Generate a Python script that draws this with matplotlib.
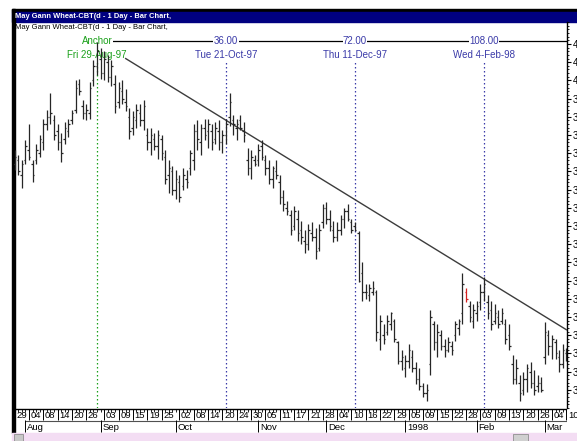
import numpy as np
import pandas as pd
import matplotlib
matplotlib.use('Agg')
from matplotlib import pyplot as plt
from matplotlib.patches import Rectangle
from matplotlib.ticker import MultipleLocator, FixedLocator

plt.rcParams['font.family'] = ['Liberation Sans', 'DejaVu Sans']

# trading calendar (CBT closed on these days)
holidays = ['1997-09-01', '1997-11-27', '1997-12-25', '1998-01-01', '1998-01-19', '1998-02-16']
dates = [d.strftime('%Y-%m-%d') for d in pd.bdate_range('1997-07-29', '1998-03-10')]
dates = [d for d in dates if d not in holidays]

# daily bars, cents per bushel
highs = [381, 379.5, 378, 383.5, 388, 378, 382.5, 385, 389.5, 392,
         396.5, 390.5, 388, 385.5, 388.5, 389.5, 392, 400, 400.5, 394.5,
         393.5, 399.5, 405.5, 410.5, 409, 408, 407, 405.5, 401.5, 399.5,
         400, 397.5, 392.5, 391.5, 393.5, 393.5, 394.5, 387, 387, 385.5,
         386.5, 385, 381, 378, 376.5, 375.5, 374, 376, 375.5, 381,
         388, 389, 388, 389.5, 389.5, 388, 388.5, 389, 386.5, 389.5,
         396.5, 390.5, 389.5, 390.5, 388.5, 381.5, 381, 379.5, 382.5, 383.5,
         379.5, 378, 376.5, 378, 374, 370, 367, 364.5, 365.5, 364.5,
         361.5, 359, 360.5, 361, 359.5, 360.5, 366, 366.5, 364.5, 361.5,
         361, 363, 365, 366, 362, 361, 358.5, 350, 344, 344,
         345, 342.5, 335.5, 333, 335.5, 336.5, 334.5, 328.5, 326, 324.5,
         327.5, 326, 322.5, 321, 317, 316.5, 337, 334, 333, 331.5,
         329, 329.5, 328.5, 334, 334.5, 347, 343, 339.5, 338.5, 339.5,
         344, 346, 341, 339.5, 338.5, 337, 337.5, 334.5, 333, 324.5,
         323.5, 319, 320, 322, 322.5, 320.5, 319, 318.5, 333.5, 331.5,
         330, 329, 326, 327.5, 326.5]
lows = [375.5, 374, 370.5, 377, 378, 372, 377, 379, 381, 386.5,
        388, 383.5, 381, 377.5, 382.5, 384.5, 388, 391, 396, 389.5,
        389, 389.5, 398.5, 401.5, 400.5, 400, 399.5, 398.5, 391, 392.5,
        393.5, 391.5, 384, 385, 387, 387.5, 386.5, 381, 379.5, 381,
        378.5, 378, 371.5, 369, 368.5, 367.5, 366.5, 370, 370.5, 374,
        375.5, 381, 379.5, 383.5, 381.5, 381, 382.5, 381, 380, 382.5,
        387.5, 385, 383.5, 386.5, 383, 374, 373, 376.5, 376.5, 378,
        374, 371.5, 370.5, 373, 366, 364, 363, 357.5, 359, 356,
        355, 352.5, 353.5, 356, 351, 353, 359.5, 360.5, 358.5, 355.5,
        356, 357.5, 359.5, 361.5, 358, 358.5, 344.5, 339.5, 340, 339.5,
        341, 328.5, 326, 327.5, 330, 331.5, 328, 322, 320.5, 318.5,
        321, 320, 316.5, 315, 313, 312, 319, 326, 324, 326,
        324, 325.5, 324.5, 328.5, 330, 333, 339, 333.5, 332, 334,
        337, 339.5, 334.5, 331.5, 333, 332, 333, 327.5, 326, 316.5,
        316.5, 312, 313.5, 314.5, 315.5, 313.5, 314.5, 314.5, 322, 324.5,
        323.5, 323.5, 320, 321, 323]
opens = [377, 378, 374, 378, 381, 377, 378, 380, 383, 388,
         390, 389, 386, 383, 384, 386, 389, 392, 399, 393,
         391, 391, 400, 404, 406, 402, 405, 401, 399, 394,
         397, 394, 390, 387, 389, 391, 389, 385, 383, 384,
         382, 384, 379, 374, 375, 370, 372, 371, 373, 376,
         378, 386, 383, 387, 386, 386, 384, 386, 383, 385,
         390, 389, 387, 389, 386, 378, 376, 378, 378, 382,
         378, 376, 373, 375, 372, 368, 365, 363, 360, 362,
         359, 356, 355, 358, 357, 354, 361, 365, 362, 359,
         357, 359, 362, 364, 361, 360, 358, 347, 342, 341,
         342, 342, 329, 330, 331, 333, 334, 328, 323, 321,
         323, 324, 321, 318, 316, 314, 322, 333, 328, 330,
         327, 326, 327, 330, 332, 336, 342, 338, 334, 336,
         339, 342, 339, 337, 334, 335, 334, 333, 330, 322,
         318, 317, 315, 318, 320, 317, 316, 317, 324, 330,
         327, 328, 324, 322, 325]
closes = [379, 375, 377, 382, 379, 374, 381, 384, 388, 390,
          391, 385, 383, 380, 387, 388, 391, 398, 397, 391,
          392, 398, 404, 408, 402, 406, 401, 404, 393, 398,
          395, 393, 386, 390, 392, 389, 393, 383, 385, 382,
          385, 380, 373, 376, 370, 373, 368, 374, 372, 380,
          386, 384, 387, 385, 388, 383, 387, 383, 385, 388,
          394, 388, 388, 387, 385, 376, 379, 377, 381, 379,
          376, 373, 376, 374, 368, 366, 364, 359, 364, 358,
          357, 355, 359, 357, 353, 359, 365, 362, 360, 357,
          359, 362, 364, 362, 359, 359, 345, 342, 342, 343,
          343, 331, 334, 329, 334, 336, 329, 323, 324, 323,
          326, 321, 318, 316, 314, 315, 335, 328, 331, 327,
          326, 328, 326, 333, 334, 344, 340, 335, 337, 338,
          342, 344, 336, 333, 336, 333, 336, 329, 327, 318,
          321, 314, 318, 321, 317, 315, 317, 315, 331, 327,
          329, 325, 322, 326, 325]
red_day = '1998-01-28'

# gann study
event_dates = ['1997-08-29', '1997-10-21', '1997-12-11', '1998-02-04']
event_top = ['Anchor', '36.00', '72.00', '108.00']
event_bottom = ['Fri 29-Aug-97', 'Tue 21-Oct-97', 'Thu 11-Dec-97', 'Wed 4-Feb-98']
event_colors = ['#1aa01a', '#3a3aa8', '#3a3aa8', '#3a3aa8']
top_level = 410.8
trend_dates = ['1997-09-11', '1998-03-10']
trend_prices = [406.0, 331.5]

# axis labels
day_ticks = ['1997-07-29', '1997-08-04', '1997-08-08', '1997-08-14', '1997-08-20', '1997-08-26',
             '1997-09-03', '1997-09-09', '1997-09-15', '1997-09-19', '1997-09-25',
             '1997-10-02', '1997-10-08', '1997-10-14', '1997-10-20', '1997-10-24', '1997-10-30',
             '1997-11-05', '1997-11-11', '1997-11-17', '1997-11-21', '1997-11-28',
             '1997-12-04', '1997-12-10', '1997-12-16', '1997-12-22', '1997-12-29',
             '1998-01-05', '1998-01-09', '1998-01-15', '1998-01-22', '1998-01-28',
             '1998-02-03', '1998-02-09', '1998-02-13', '1998-02-20', '1998-02-26',
             '1998-03-04', '1998-03-10']
month_starts = ['1997-08-01', '1997-09-02', '1997-10-01', '1997-11-03',
                '1997-12-01', '1998-01-02', '1998-02-02', '1998-03-02']
month_labels = ['Aug', 'Sep', 'Oct', 'Nov', 'Dec', '1998', 'Feb', 'Mar']
price_ticks = [315, 320, 325, 330, 335, 340, 345, 350, 355, 360,
               365, 370, 375, 380, 385, 390, 395, 400, 405, 410]

title = 'May Gann Wheat-CBT(d - 1 Day - Bar Chart,'

pos = {d: i for i, d in enumerate(dates)}
W, H = 577, 441
fig = plt.figure(figsize=(W / 100, H / 100), dpi=100)


def box(l, t, r, b):
    return [l / W, 1 - b / H, (r - l) / W, (b - t) / H]


# window chrome
bg = fig.add_axes([0, 0, 1, 1])
bg.set_xlim(0, W)
bg.set_ylim(H, 0)
bg.axis('off')
bg.add_patch(Rectangle((11.5, 9), W - 11.5, 2.5, color='black'))
bg.add_patch(Rectangle((11.5, 11.5), W - 11.5, 10.5, color='#000080'))
bg.add_patch(Rectangle((11.5, 9), 3, 424, color='black'))
bg.add_patch(Rectangle((11.5, 433), W - 11.5, 8, color='#f3ddf3'))
bg.add_patch(Rectangle((14, 434), 9, 7, facecolor='#c8c8c8', edgecolor='#808080', lw=0.5))
bg.add_patch(Rectangle((513, 434), 15, 7, facecolor='#d0d0d0', edgecolor='#808080', lw=0.5))
bg.text(15, 16.8, title, color='white', fontsize=5.4, fontweight='bold', va='center', ha='left')
bg.text(15, 27.5, title, color='black', fontsize=5.5, va='center', ha='left')

# price panel
ax = fig.add_axes(box(14, 22, 567, 408))
ax.set_xlim(-0.17, 154.17)
ax.set_ylim(310, 416.04)
ax.patch.set_alpha(0)
for s in ['top', 'left', 'bottom']:
    ax.spines[s].set_visible(False)
ax.spines['right'].set_linewidth(1)
ax.set_xticks([])
ax.yaxis.tick_right()
ax.yaxis.set_major_locator(FixedLocator(price_ticks))
ax.set_yticklabels(['%.2f' % (p / 100) for p in price_ticks])
ax.yaxis.set_minor_locator(MultipleLocator(1))
ax.tick_params(axis='y', which='major', direction='out', length=3, width=0.8, pad=1, labelsize=7)
ax.tick_params(axis='y', which='minor', direction='out', length=1.5, width=0.6)

idx = np.arange(len(dates))
cols = ['#d42020' if d == red_day else '#262626' for d in dates]
ax.vlines(idx, lows, highs, colors=cols, lw=0.9, zorder=5)
ax.hlines(opens, idx - 0.42, idx, colors=cols, lw=0.9, zorder=5)
ax.hlines(closes, idx, idx + 0.42, colors=cols, lw=0.9, zorder=5)

ax.plot([pos[d] for d in trend_dates], trend_prices, color='#3c3c3c', lw=1, zorder=4)
ax.hlines(top_level, pos[event_dates[0]], 154.17, color='black', lw=0.9, zorder=2)
for d, t1, t2, c in zip(event_dates, event_top, event_bottom, event_colors):
    x = pos[d]
    ax.vlines(x, 310, 405.3, colors=c, lw=0.9, linestyles=(0, (1.2, 2)), zorder=3)
    ax.text(x, top_level, t1, color=c, fontsize=7, ha='center', va='center', zorder=3,
            bbox=dict(facecolor='white', edgecolor='none', pad=0.3))
    ax.text(x, 407.1, t2, color=c, fontsize=7, ha='center', va='center', zorder=3)

# date ruler
axr = fig.add_axes(box(14, 408, 567, 433))
axr.set_xlim(ax.get_xlim())
axr.set_ylim(433, 408)
axr.axis('off')
axr.hlines(409, -0.17, 154.17, color='black', lw=1)
axr.vlines(idx, 409, 411.5, color='black', lw=0.6)
for d in day_ticks:
    x = pos[d]
    axr.vlines(x, 409, 420, color='black', lw=0.7)
    axr.text(x + 0.45, 415, d[8:], fontsize=6.8, ha='left', va='center', clip_on=False)
axr.hlines(421, pos[month_starts[0]], 154.17, color='#505050', lw=0.8)
for d, lab in zip(month_starts, month_labels):
    x = pos[d]
    axr.vlines(x, 420, 432, color='black', lw=0.7)
    axr.text(x + 0.5, 427, lab, fontsize=6.8, ha='left', va='center')

fig.savefig('out.png', dpi=100)
